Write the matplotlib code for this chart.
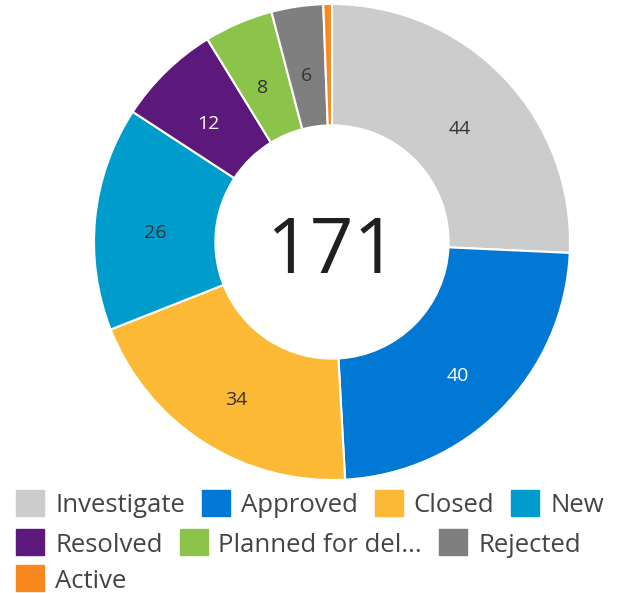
import matplotlib
matplotlib.use("Agg")
import matplotlib.pyplot as plt
from matplotlib.patches import Rectangle
import matplotlib.transforms as mtransforms
import numpy as np

categories = ["Investigate", "Approved", "Closed", "New", "Resolved",
              "Planned for delivery", "Rejected", "Active"]
values = [44, 40, 34, 26, 12, 8, 6, 1]
colors = ["#cccccc", "#0078d4", "#fbb935", "#009ccc", "#5c197b",
          "#8cc34b", "#7f7f7f", "#f7891f"]
label_colors = ["#333333", "#ffffff", "#333333", "#333333", "#ffffff",
                "#333333", "#333333", "#333333"]
legend_labels = [c if len(c) <= 16 else c[:15] + "..." for c in categories]
legend_rows = [4, 3, 1]
total = sum(values)

W, H = 618, 593
fig = plt.figure(figsize=(W / 100, H / 100), dpi=100)
cx, cy, R = 332, 242, 238
ax = fig.add_axes([(cx - R) / W, (H - cy - R) / H, 2 * R / W, 2 * R / H])
ax.set_aspect("equal")
ax.axis("off")

inner = 0.49
wedges, _ = ax.pie(values, colors=colors, startangle=90, counterclock=False,
                   radius=1.0, wedgeprops=dict(width=1 - inner, edgecolor="white",
                                               linewidth=1.5))
mid_r = (1 + inner) / 2
shift = mtransforms.offset_copy(ax.transData, fig=fig, x=0, y=-7, units="dots")
for w, v, lc in zip(wedges, values, label_colors):
    if v / total < 0.02:
        continue
    ang = np.deg2rad((w.theta1 + w.theta2) / 2)
    ax.text(mid_r * np.cos(ang), mid_r * np.sin(ang), str(v), ha="center",
            va="center_baseline", fontsize=14, color=lc, family="Open Sans",
            transform=shift)
center_shift = mtransforms.offset_copy(ax.transData, fig=fig, x=0, y=-31,
                                       units="dots")
ax.text(0, 0, str(total), ha="center", va="baseline", fontsize=55,
        color="#1f1f1f", family="Open Sans", transform=center_shift)
ax.set_xlim(-1, 1)
ax.set_ylim(-1, 1)

# legend (row layout)
fs = 18.5
fig.canvas.draw()
renderer = fig.canvas.get_renderer()
row_y = [503, 542, 578]
sqw, sqh = 28, 26
idx = 0
for row, n in enumerate(legend_rows):
    x = 16
    y = row_y[row]
    for lab, col in zip(legend_labels[idx:idx + n], colors[idx:idx + n]):
        t = fig.text((x + sqw + 11) / W, (H - y) / H, lab, fontsize=fs,
                     family="Open Sans", color="#444444",
                     va="center_baseline", ha="left")
        tw = t.get_window_extent(renderer).width
        fig.patches.append(Rectangle((x / W, (H - y - sqh / 2) / H), sqw / W,
                                     sqh / H, transform=fig.transFigure,
                                     color=col))
        x += sqw + 11 + tw + 17
    idx += n

fig.savefig("out.png", dpi=100)
